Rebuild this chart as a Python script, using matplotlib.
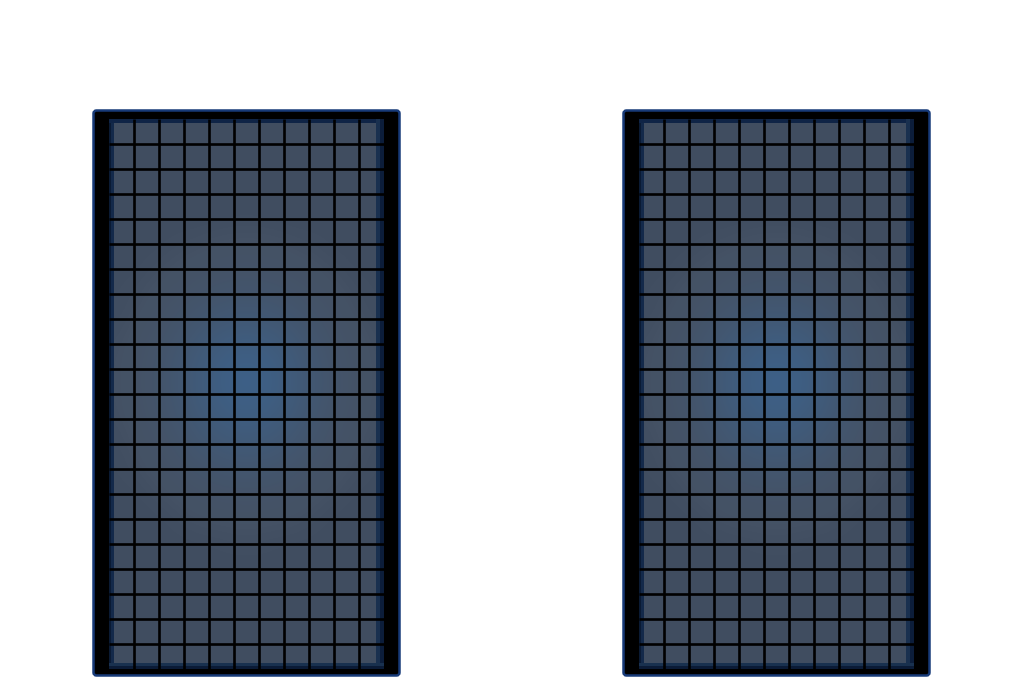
import numpy as np
import matplotlib
matplotlib.use("Agg")
import matplotlib.pyplot as plt
from matplotlib.colors import LinearSegmentedColormap
from matplotlib.patches import FancyBboxPatch, Rectangle

# ---- data: cell intensities (22 rows x 11 columns) ----
row_00 = [0.00, 0.00, 0.00, 0.00, 0.00, 0.00, 0.00, 0.00, 0.00, 0.00, 0.00]
row_01 = [0.00, 0.00, 0.00, 0.00, 0.00, 0.00, 0.00, 0.00, 0.00, 0.00, 0.00]
row_02 = [0.00, 0.00, 0.00, 0.00, 0.00, 0.00, 0.00, 0.00, 0.00, 0.00, 0.00]
row_03 = [0.00, 0.00, 0.00, 0.00, 0.00, 0.01, 0.00, 0.00, 0.00, 0.00, 0.00]
row_04 = [0.00, 0.00, 0.01, 0.01, 0.02, 0.02, 0.02, 0.01, 0.01, 0.00, 0.00]
row_05 = [0.00, 0.01, 0.02, 0.04, 0.06, 0.07, 0.06, 0.04, 0.02, 0.01, 0.00]
row_06 = [0.01, 0.02, 0.05, 0.10, 0.15, 0.17, 0.15, 0.10, 0.05, 0.02, 0.01]
row_07 = [0.01, 0.04, 0.11, 0.21, 0.31, 0.36, 0.31, 0.21, 0.11, 0.04, 0.01]
row_08 = [0.02, 0.07, 0.18, 0.37, 0.55, 0.63, 0.55, 0.37, 0.18, 0.07, 0.02]
row_09 = [0.03, 0.11, 0.26, 0.52, 0.78, 0.89, 0.78, 0.52, 0.26, 0.11, 0.03]
row_10 = [0.03, 0.12, 0.29, 0.58, 0.87, 1.00, 0.87, 0.58, 0.29, 0.12, 0.03]
row_11 = [0.03, 0.11, 0.26, 0.52, 0.78, 0.89, 0.78, 0.52, 0.26, 0.11, 0.03]
row_12 = [0.02, 0.07, 0.19, 0.39, 0.58, 0.66, 0.58, 0.39, 0.19, 0.07, 0.02]
row_13 = [0.01, 0.05, 0.12, 0.25, 0.37, 0.42, 0.37, 0.25, 0.12, 0.05, 0.01]
row_14 = [0.01, 0.02, 0.06, 0.12, 0.18, 0.20, 0.18, 0.12, 0.06, 0.02, 0.01]
row_15 = [0.00, 0.01, 0.02, 0.05, 0.07, 0.08, 0.07, 0.05, 0.02, 0.01, 0.00]
row_16 = [0.00, 0.00, 0.01, 0.02, 0.02, 0.03, 0.02, 0.02, 0.01, 0.00, 0.00]
row_17 = [0.00, 0.00, 0.00, 0.00, 0.01, 0.01, 0.01, 0.00, 0.00, 0.00, 0.00]
row_18 = [0.00, 0.00, 0.00, 0.00, 0.00, 0.00, 0.00, 0.00, 0.00, 0.00, 0.00]
row_19 = [0.00, 0.00, 0.00, 0.00, 0.00, 0.00, 0.00, 0.00, 0.00, 0.00, 0.00]
row_20 = [0.00, 0.00, 0.00, 0.00, 0.00, 0.00, 0.00, 0.00, 0.00, 0.00, 0.00]
row_21 = [0.00, 0.00, 0.00, 0.00, 0.00, 0.00, 0.00, 0.00, 0.00, 0.00, 0.00]

left_panel = [row_00, row_01, row_02, row_03, row_04, row_05, row_06, row_07,
              row_08, row_09, row_10, row_11, row_12, row_13, row_14, row_15,
              row_16, row_17, row_18, row_19, row_20, row_21]
right_panel = [list(r) for r in left_panel]
panels = [left_panel, right_panel]

# ---- styling ----
cmap = LinearSegmentedColormap.from_list(
    "panel", [(0.0, "#404d60"), (0.04, "#455265"), (1.0, "#3d6189")])

W, H = 1024, 700
fig = plt.figure(figsize=(W / 100, H / 100), dpi=100)
fig.patch.set_facecolor("white")

px = 25.0  # pixels per cell
x_lo, x_hi = -0.64, 11.64
y_lo, y_hi = -0.36, 22.28
ax_w = (x_hi - x_lo) * px
ax_h = (y_hi - y_lo) * px
ax_top_px = 110
lefts_px = [93, 623]

for data, lp in zip(panels, lefts_px):
    arr = np.array(data)
    nr, nc = arr.shape
    ax = fig.add_axes([lp / W, (H - ax_top_px - ax_h) / H, ax_w / W, ax_h / H])
    ax.set_xlim(x_lo, x_hi)
    ax.set_ylim(y_hi, y_lo)
    ax.axis("off")

    frame = FancyBboxPatch((x_lo + 0.02, y_lo + 0.02),
                           (x_hi - x_lo) - 0.04, (y_hi - y_lo) - 0.04,
                           boxstyle="round,pad=0,rounding_size=0.12",
                           facecolor="black", edgecolor="#173a78",
                           linewidth=1.8, clip_on=False, zorder=0)
    ax.add_patch(frame)

    ax.imshow(arr, cmap=cmap, vmin=0, vmax=1, extent=(0, nc, nr, 0),
              interpolation="bicubic", zorder=1, aspect="auto")

    # edge shading bands
    bands = [
        (0, 0, 0.08, nr, "#0a1a33"),
        (0.08, 0, 0.12, nr, "#13294a"),
        (0, 0, nc, 0.16, "#0f2446"),
        (nc - 0.32, 0, 0.16, nr, "#19304f"),
        (nc - 0.16, 0, 0.16, nr, "#0c1d3a"),
        (0, nr - 0.24, nc, 0.12, "#19314f"),
        (0, nr - 0.12, nc, 0.12, "#0b1b36"),
    ]
    for bx, by, bw, bh, col in bands:
        ax.add_patch(Rectangle((bx, by), bw, bh, facecolor=col,
                               edgecolor="none", zorder=2))

    ax.vlines(np.arange(1, nc), 0, nr, colors="black", linewidth=1.9, zorder=3)
    ax.hlines(np.arange(1, nr), 0, nc, colors="black", linewidth=1.9, zorder=3)

fig.savefig("out.png", dpi=100, facecolor="white")
